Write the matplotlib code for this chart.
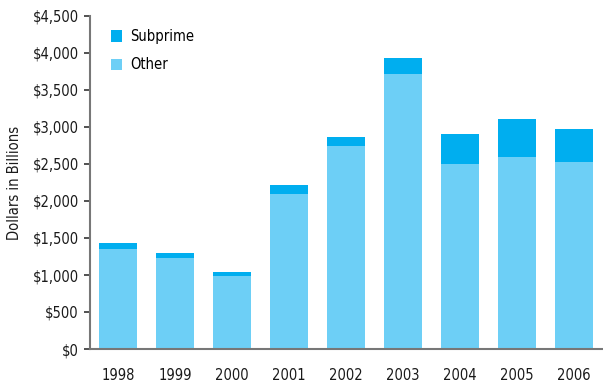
import matplotlib
matplotlib.use("Agg")
import matplotlib.pyplot as plt
from matplotlib.ticker import FuncFormatter

years = ["1998", "1999", "2000", "2001", "2002", "2003", "2004", "2005", "2006"]
other = [1355, 1235, 980, 2100, 2745, 3720, 2505, 2600, 2530]
subprime = [80, 65, 65, 110, 125, 215, 405, 510, 445]
y_ticks = [0, 500, 1000, 1500, 2000, 2500, 3000, 3500, 4000, 4500]

plt.rcParams["font.family"] = ["DejaVu Sans"]
plt.rcParams["font.stretch"] = "condensed"

fig = plt.figure(figsize=(6.03, 3.85), dpi=100)
ax = fig.add_axes([90 / 603, 1 - 349 / 385, 512 / 603, 333 / 385])

x = list(range(len(years)))
c_other = "#6DCFF6"
c_sub = "#00AEEF"
ax.bar(x, other, width=0.667, color=c_other, label="Other")
ax.bar(x, subprime, width=0.667, bottom=other, color=c_sub, label="Subprime")

ax.set_xlim(-0.49, 8.49)
ax.set_ylim(0, 4500)
ax.set_yticks(y_ticks)
ax.yaxis.set_major_formatter(FuncFormatter(lambda v, p: "${:,.0f}".format(v)))
ax.set_xticks(x)
ax.set_xticklabels(years)

for s in ["top", "right"]:
    ax.spines[s].set_visible(False)
for s in ["left", "bottom"]:
    ax.spines[s].set_color("#777777")
    ax.spines[s].set_linewidth(1.5)

ax.tick_params(axis="y", length=4, width=1.2, color="#333333", labelsize=10.5, pad=4, labelcolor="#1a1a1a")
ax.tick_params(axis="x", length=0, labelsize=10.5, pad=14, labelcolor="#1a1a1a")

ax.set_ylabel("Dollars in Billions", fontsize=10.5, color="#1a1a1a", labelpad=8)

h, l = ax.get_legend_handles_labels()
ax.legend(h[::-1], l[::-1], loc="upper left", bbox_to_anchor=(0.015, 1.0), frameon=False,
          handlelength=0.8, handleheight=0.8, handletextpad=0.5, labelspacing=0.9,
          fontsize=10.5)

fig.savefig("out.png", dpi=100)
